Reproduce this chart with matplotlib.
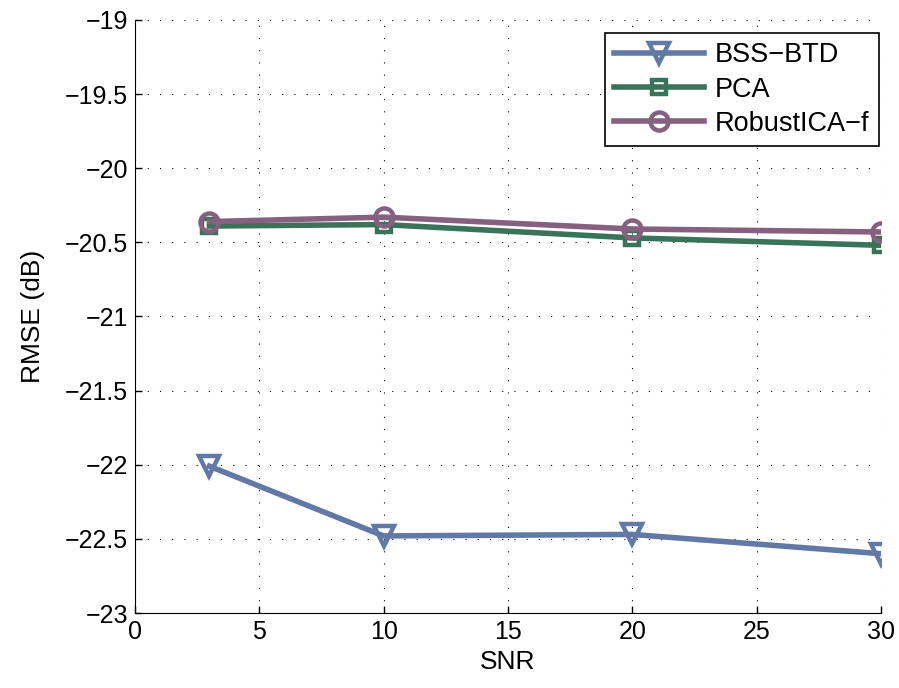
import matplotlib
matplotlib.use("Agg")
import matplotlib.pyplot as plt

plt.rcParams['font.family'] = ['Liberation Sans', 'DejaVu Sans']

# SNR levels and RMSE (dB) per method
snr = [3, 10, 20, 30]
bss_btd = [-22.01, -22.48, -22.47, -22.60]
pca = [-20.39, -20.38, -20.47, -20.52]
robustica_f = [-20.36, -20.33, -20.41, -20.43]

fig = plt.figure(figsize=(8.99, 6.88), dpi=100)
ax = fig.add_axes([0.150, 0.109, 0.830, 0.862])

ax.plot(snr, bss_btd, color='#6279a5', lw=4.0, marker='v', ms=15,
        mfc='none', mew=3.2, label='BSS\u2212BTD')
ax.plot(snr, pca, color='#3a735a', lw=4.0, marker='s', ms=10,
        mfc='none', mew=3.2, label='PCA')
ax.plot(snr, robustica_f, color='#85617f', lw=4.0, marker='o', ms=13,
        mfc='none', mew=3.2, label='RobustICA\u2212f')

ax.set_xlim(0, 30)
ax.set_ylim(-23, -19)
ax.set_xticks(range(0, 31, 5))
ax.set_yticks([-23 + 0.5 * i for i in range(9)])
ax.set_yticklabels(['\u221223', '\u221222.5', '\u221222', '\u221221.5', '\u221221',
                    '\u221220.5', '\u221220', '\u221219.5', '\u221219'])
ax.tick_params(direction='in', length=5, width=1, labelsize=18, pad=5)
ax.grid(True, linestyle=(0, (1, 10)), color='black', lw=0.8)
for side in ('top', 'right'):
    ax.spines[side].set_visible(False)

ax.set_xlabel('SNR', fontsize=19, labelpad=4)
ax.set_ylabel('RMSE (dB)', fontsize=19, labelpad=14)

leg = ax.legend(loc='upper right', fontsize=19.5, frameon=True, fancybox=False,
                edgecolor='black', framealpha=1, handlelength=3.3,
                borderpad=0.35, labelspacing=0.3, handletextpad=0.4,
                borderaxespad=0, bbox_to_anchor=(0.997, 0.978))
leg.get_frame().set_linewidth(1.2)

fig.savefig('out.png', dpi=100)
